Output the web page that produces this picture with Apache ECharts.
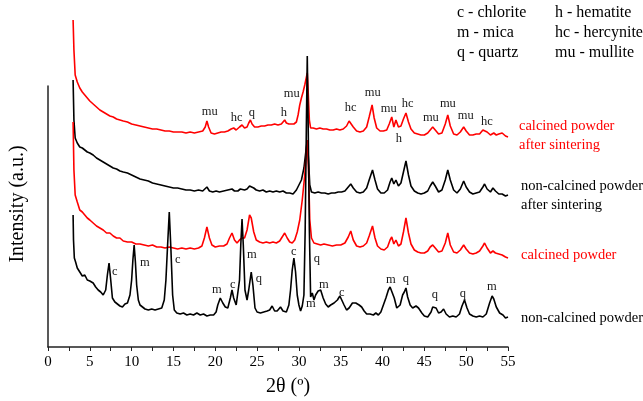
<!DOCTYPE html>
<html>
<head>
<meta charset="utf-8">
<script src="https://cdn.jsdelivr.net/npm/echarts@6/dist/echarts.min.js"></script>
<style>
html,body{margin:0;padding:0;background:#fff;}
#chart{width:643px;height:401px;}
</style>
</head>
<body>
<div id="chart"></div>
<script>
// ---- Data (2θ in degrees, intensity in arbitrary units, traces offset as in the figure) ----
var calcinedSintered = [
[3.0,327],[3.1,297],[3.25,272],[3.5,265],[3.8,259],[4.1,255],[4.4,252],[4.7,249],[5.0,246],[5.4,243],[5.8,240],[6.2,237],[6.6,235],[7.0,233],[7.4,231],[7.8,230],[8.2,228],[8.6,227],[9.0,226],[9.5,225],[10.0,223],[10.5,222],[11.0,221],[11.5,220],[12.0,219],[12.5,218],[13.0,218],[13.5,217],[14.0,216],[14.5,216],[15.0,215],[15.5,215],[16.0,215],[16.5,214],[17.0,215],[17.5,214],[18.0,215],[18.5,216],[18.8,220],[19.0,226],[19.2,220],[19.5,214],[19.9,213],[20.3,214],[20.7,215],[21.1,215],[21.5,216],[21.9,218],[22.2,219],[22.5,217],[22.9,220],[23.2,222],[23.5,219],[23.8,220],[24.0,224],[24.2,227],[24.4,223],[24.7,220],[25.1,220],[25.5,221],[25.9,221],[26.3,222],[26.7,222],[27.1,223],[27.5,222],[27.9,223],[28.1,225],[28.3,227],[28.5,224],[28.8,223],[29.1,223],[29.4,223],[29.7,225],[29.9,232],[30.1,242],[30.3,249],[30.5,255],[30.7,262],[30.9,270],[31.0,274],[31.1,257],[31.25,227],[31.4,219],[31.7,219],[32.1,218],[32.5,219],[32.9,218],[33.3,218],[33.7,217],[34.1,217],[34.5,218],[34.9,217],[35.3,218],[35.7,221],[36.0,226],[36.2,227],[36.5,220],[36.9,216],[37.3,215],[37.7,216],[38.1,220],[38.4,230],[38.75,242],[39.0,229],[39.3,219],[39.7,216],[40.1,216],[40.5,217],[40.8,223],[41.1,230],[41.35,220],[41.6,227],[41.9,220],[42.2,221],[42.5,228],[42.8,234],[43.1,225],[43.4,218],[43.8,214],[44.2,213],[44.6,212],[45.0,212],[45.4,214],[45.7,217],[46.0,220],[46.3,217],[46.7,213],[47.1,214],[47.5,223],[47.8,232],[48.1,221],[48.5,213],[48.9,212],[49.3,215],[49.7,220],[50.0,216],[50.4,212],[50.8,212],[51.2,213],[51.6,213],[52.0,217],[52.2,219],[52.5,215],[52.9,212],[53.3,214],[53.6,212],[53.9,213],[54.3,214],[54.7,211],[55.0,210]
];
var nonCalcinedSintered = [
[3.0,267],[3.1,227],[3.25,209],[3.5,204],[3.8,200],[4.1,199],[4.4,197],[4.7,195],[5.0,194],[5.4,192],[5.8,189],[6.2,187],[6.6,185],[7.0,183],[7.4,181],[7.8,179],[8.2,178],[8.6,176],[9.0,175],[9.5,174],[10.0,172],[10.5,170],[11.0,168],[11.5,167],[12.0,166],[12.5,164],[13.0,163],[13.5,162],[14.0,161],[14.5,160],[15.0,159],[15.5,159],[16.0,158],[16.5,157],[17.0,157],[17.5,156],[18.0,157],[18.5,156],[19.0,160],[19.3,156],[19.7,155],[20.1,156],[20.5,155],[21.0,156],[21.5,157],[22.0,158],[22.3,156],[22.7,156],[23.0,158],[23.2,160],[23.5,157],[23.8,158],[24.1,161],[24.3,162],[24.6,159],[24.9,157],[25.3,156],[25.7,157],[26.1,155],[26.5,156],[26.9,155],[27.3,156],[27.7,155],[28.1,156],[28.5,154],[28.9,154],[29.3,153],[29.7,157],[30.0,162],[30.3,167],[30.6,179],[30.85,197],[31.0,207],[31.15,187],[31.3,162],[31.5,155],[31.9,154],[32.3,155],[32.7,154],[33.1,154],[33.5,153],[33.9,154],[34.3,154],[34.7,155],[35.1,155],[35.5,156],[35.9,160],[36.2,163],[36.5,159],[36.9,155],[37.3,154],[37.7,155],[38.1,159],[38.4,167],[38.8,177],[39.1,167],[39.4,158],[39.8,154],[40.2,154],[40.6,157],[40.9,165],[41.1,169],[41.35,163],[41.6,167],[41.9,161],[42.2,164],[42.5,175],[42.8,186],[43.1,172],[43.4,161],[43.8,156],[44.2,154],[44.6,153],[45.0,154],[45.4,156],[45.7,161],[46.0,165],[46.3,161],[46.7,155],[47.1,157],[47.5,167],[47.8,177],[48.1,167],[48.5,157],[48.9,154],[49.3,158],[49.7,166],[50.0,160],[50.4,155],[50.8,153],[51.2,154],[51.6,155],[52.0,160],[52.2,163],[52.5,158],[52.9,155],[53.2,159],[53.5,156],[53.9,153],[54.3,153],[54.7,151],[55.0,152]
];
var calcinedPowder = [
[3.0,225],[3.1,177],[3.25,152],[3.5,145],[3.8,137],[4.1,135],[4.4,132],[4.7,129],[5.0,127],[5.4,124],[5.8,121],[6.2,119],[6.6,117],[7.0,114],[7.4,114],[7.8,111],[8.2,109],[8.6,109],[9.0,106],[9.5,105],[10.0,105],[10.5,103],[11.0,103],[11.5,102],[12.0,101],[12.5,102],[13.0,100],[13.5,100],[14.0,99],[14.5,100],[15.0,99],[15.5,98],[16.0,99],[16.5,98],[17.0,99],[17.5,98],[18.0,99],[18.4,101],[18.7,109],[19.0,120],[19.3,109],[19.6,102],[20.0,100],[20.5,101],[21.0,101],[21.4,103],[21.7,109],[22.0,114],[22.3,107],[22.6,104],[22.9,107],[23.2,109],[23.5,109],[23.8,117],[24.1,132],[24.3,129],[24.6,115],[24.9,107],[25.3,105],[25.7,104],[26.1,105],[26.5,104],[26.9,105],[27.3,104],[27.7,106],[28.0,110],[28.3,114],[28.6,109],[28.9,105],[29.2,104],[29.5,107],[29.8,115],[30.1,127],[30.4,147],[30.7,172],[30.9,197],[31.0,207],[31.15,177],[31.3,127],[31.5,109],[31.8,104],[32.2,103],[32.6,102],[33.0,103],[33.5,102],[34.0,101],[34.5,102],[35.0,102],[35.5,104],[35.9,110],[36.2,116],[36.5,107],[36.9,101],[37.3,100],[37.7,101],[38.1,104],[38.4,111],[38.8,121],[39.1,109],[39.4,101],[39.8,98],[40.2,97],[40.6,100],[40.9,107],[41.1,110],[41.35,103],[41.6,107],[41.9,101],[42.2,103],[42.5,115],[42.8,129],[43.1,114],[43.4,103],[43.8,97],[44.2,95],[44.6,94],[45.0,94],[45.4,96],[45.7,100],[46.0,102],[46.3,99],[46.7,95],[47.1,96],[47.5,104],[47.8,114],[48.1,102],[48.5,95],[48.9,94],[49.3,97],[49.7,102],[50.0,98],[50.4,94],[50.8,93],[51.2,94],[51.6,96],[52.0,101],[52.2,104],[52.5,99],[52.9,94],[53.2,96],[53.5,94],[53.9,93],[54.3,92],[54.7,90],[55.0,89]
];
var nonCalcinedPowder = [
[3.0,132],[3.05,107],[3.15,89],[3.3,85],[3.5,79],[3.8,75],[4.1,71],[4.4,72],[4.7,67],[5.0,66],[5.4,64],[5.7,60],[6.0,57],[6.3,55],[6.6,52],[6.9,57],[7.1,72],[7.3,84],[7.5,67],[7.7,49],[8.0,45],[8.3,43],[8.6,41],[8.9,40],[9.2,43],[9.5,44],[9.8,52],[10.0,67],[10.15,87],[10.3,102],[10.45,85],[10.6,62],[10.8,47],[11.0,42],[11.3,40],[11.6,38],[12.0,37],[12.4,38],[12.8,37],[13.2,38],[13.6,39],[13.9,47],[14.1,67],[14.3,102],[14.5,135],[14.7,97],[14.9,52],[15.1,37],[15.4,34],[15.8,33],[16.2,34],[16.6,32],[17.0,33],[17.4,32],[17.8,34],[18.2,32],[18.6,33],[19.0,31],[19.4,32],[19.8,32],[20.1,35],[20.3,42],[20.6,49],[20.9,44],[21.2,40],[21.5,39],[21.8,49],[22.0,57],[22.2,49],[22.5,42],[22.7,44],[22.9,67],[23.05,102],[23.2,128],[23.35,102],[23.55,57],[23.8,47],[24.0,57],[24.3,75],[24.5,62],[24.75,39],[25.0,35],[25.4,34],[25.8,35],[26.2,36],[26.5,37],[26.8,41],[27.1,36],[27.4,36],[27.8,40],[28.1,36],[28.5,35],[28.8,42],[29.0,57],[29.2,77],[29.4,89],[29.6,75],[29.8,52],[30.0,42],[30.2,36],[30.4,41],[30.6,52],[30.75,117],[30.9,227],[31.0,291],[31.1,227],[31.25,117],[31.4,50],[31.6,54],[31.8,47],[32.0,52],[32.3,56],[32.6,57],[32.9,49],[33.2,43],[33.5,40],[33.8,42],[34.2,44],[34.6,47],[34.9,51],[35.1,49],[35.4,42],[35.7,37],[36.0,39],[36.4,44],[36.8,44],[37.2,42],[37.5,40],[37.8,36],[38.1,33],[38.5,33],[38.9,32],[39.2,34],[39.5,32],[39.8,35],[40.1,42],[40.4,49],[40.7,57],[40.9,60],[41.1,59],[41.4,49],[41.7,39],[41.9,37],[42.1,42],[42.4,52],[42.6,55],[42.8,59],[43.0,50],[43.3,42],[43.6,39],[44.0,41],[44.3,39],[44.7,34],[45.0,31],[45.4,30],[45.8,35],[46.0,40],[46.2,42],[46.4,39],[46.7,34],[47.0,35],[47.3,38],[47.6,33],[48.0,30],[48.4,31],[48.8,30],[49.2,33],[49.5,41],[49.8,47],[50.1,39],[50.4,33],[50.8,31],[51.2,30],[51.6,31],[52.0,30],[52.4,33],[52.8,44],[53.1,51],[53.3,48],[53.6,40],[54.0,34],[54.4,32],[54.7,29],[55.0,30]
];
// Phase labels: [2θ, intensity, text]
var topPeakLabels = [
[19.34,235,'mu'],[22.57,229,'hc'],[24.37,234,'q'],[28.2,234,'h'],[29.15,253,'mu'],
[36.2,239,'hc'],[38.84,254,'mu'],[40.75,238,'mu'],[43.0,243,'hc'],[41.95,208,'h'],
[45.78,229,'mu'],[47.81,243,'mu'],[49.96,231,'mu'],[52.47,225,'hc']
];
var bottomPeakLabels = [
[7.98,75,'c'],[11.57,84,'m'],[15.51,87,'c'],[20.18,57,'m'],[22.09,62,'c'],[24.37,92,'m'],
[25.2,68,'q'],[29.39,95,'c'],[32.14,88,'q'],[31.43,43,'m'],[32.98,62,'m'],[35.13,54,'c'],
[40.99,67,'m'],[42.79,68,'q'],[46.25,52,'q'],[49.6,53,'q'],[53.07,60,'m']
];
var xTicks = {min:0, max:55, interval:5};
var legendLeft = ['c - chlorite','m - mica','q - quartz'];
var legendRight = ['h - hematite','hc - hercynite','mu - mullite'];

// ---- Chart ----
var SERIF = "'Liberation Serif','Times New Roman','DejaVu Serif',serif";
var RED = '#ff0000';
var chart = echarts.init(document.getElementById('chart'), null, {renderer:'canvas'});

function lineSeries(data, color) {
  return {type:'line', data:data, xAxisIndex:0, yAxisIndex:0, showSymbol:false, symbol:'none',
    lineStyle:{color:color, width:1.6}, silent:true, animation:false};
}
function labelSeries(arr) {
  return {type:'scatter', xAxisIndex:0, yAxisIndex:0, symbolSize:1, itemStyle:{color:'rgba(0,0,0,0)'}, silent:true, z:5,
    data: arr.map(function(d){return {name:d[2], value:[d[0],d[1]]};}),
    label:{show:true, position:'inside', formatter:'{b}', color:'#1a1a1a', fontFamily:SERIF, fontSize:12.5, opacity:1},
    labelLayout:{hideOverlap:false},
    animation:false};
}
function textBlock(lines, left, top, color, size, gap) {
  return lines.map(function(t,i){
    return {type:'text', left:left, top:top + i*gap, style:{text:t, fill:color, font: size+'px '+SERIF}};
  });
}

var graphics = []
  .concat(textBlock(legendLeft, 457, 5, '#000', 16, 20))
  .concat(textBlock(legendRight, 555, 5, '#000', 16, 20))
  .concat(textBlock(['calcined powder','after sintering'], 519, 119, RED, 14.5, 18.5))
  .concat(textBlock(['non-calcined powder','after sintering'], 521, 179, '#000', 14.5, 18.5))
  .concat(textBlock(['calcined powder'], 521, 248, RED, 14.5, 18.5))
  .concat(textBlock(['non-calcined powder'], 521, 311, '#000', 14.5, 18.5));
graphics.push({type:'text', x:18, y:204, rotation:Math.PI/2,
  style:{text:'Intensity (a.u.)', fill:'#000', font:'20px '+SERIF, textAlign:'center', textVerticalAlign:'middle'}});
graphics.push({type:'text', x:288, y:387,
  style:{text:'2θ (º)', fill:'#000', font:'20px '+SERIF, textAlign:'center', textVerticalAlign:'middle'}});

chart.setOption({
  animation:false,
  backgroundColor:'#fff',
  grid:[
    {left:48, right:135, top:17, bottom:54},
    {left:48, right:135, top:86, bottom:54}
  ],
  xAxis:[
    {type:'value', gridIndex:0, min:xTicks.min, max:xTicks.max, interval:xTicks.interval,
     axisLine:{show:true, onZero:false, lineStyle:{color:'#222', width:1.5}},
     axisTick:{show:true, inside:false, length:4, lineStyle:{color:'#222', width:1}},
     minorTick:{show:true, splitNumber:2, length:4, lineStyle:{color:'#222', width:1}},
     splitLine:{show:false},
     axisLabel:{color:'#000', fontSize:15, fontFamily:SERIF, margin:8}},
    {type:'value', gridIndex:1, min:0, max:55, show:false}
  ],
  yAxis:[
    {type:'value', gridIndex:0, min:0, max:330, show:false},
    {type:'value', gridIndex:1, min:0, max:1,
     axisLine:{show:true, onZero:false, lineStyle:{color:'#222', width:1.5}},
     axisTick:{show:false}, axisLabel:{show:false}, splitLine:{show:false}}
  ],
  series:[
    lineSeries(calcinedSintered, RED),
    lineSeries(nonCalcinedSintered, '#000'),
    lineSeries(calcinedPowder, RED),
    lineSeries(nonCalcinedPowder, '#000'),
    labelSeries(topPeakLabels),
    labelSeries(bottomPeakLabels)
  ],
  graphic:graphics
});
</script>
</body>
</html>
